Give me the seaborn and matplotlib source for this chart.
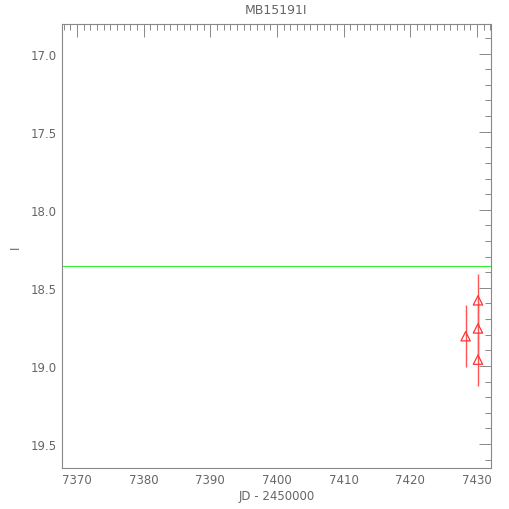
import numpy as np
import pandas as pd
import matplotlib
matplotlib.use("Agg")
import matplotlib.pyplot as plt
from matplotlib.ticker import MultipleLocator
import seaborn as sns

# photometry points (JD - 2450000, I mag, error)
jd = [7428.3, 7430.15, 7430.15, 7430.15]
mag = [18.81, 18.58, 18.76, 18.96]
err = [0.20, 0.17, 0.17, 0.17]
baseline = 18.36

title = "MB15191I"
xlabel = "JD - 2450000"
ylabel = "I"

df = pd.DataFrame({"jd": jd, "mag": mag, "err": err})

sns.set_style("white")
plt.rcParams["font.family"] = ["DejaVu Sans"]

grey = "#888888"
txt = "#666666"
fig = plt.figure(figsize=(5.1, 5.1), dpi=100)
ax = fig.add_axes([0.1216, 0.0804, 0.8411, 0.8706])

ax.axhline(baseline, color="#33ee33", lw=0.8)
ax.errorbar(df["jd"], df["mag"], yerr=df["err"], fmt="none",
            ecolor="#ff5555", elinewidth=1.0, capsize=0)
sns.scatterplot(data=df, x="jd", y="mag", marker="^", s=45,
                facecolor="none", edgecolor="#ff3333", linewidth=0.9, ax=ax, zorder=3)

ax.set_xlim(7367.75, 7432.1)
ax.set_ylim(19.654, 16.81)

ax.xaxis.set_major_locator(MultipleLocator(10))
ax.xaxis.set_minor_locator(MultipleLocator(1))
ax.yaxis.set_major_locator(MultipleLocator(0.5))
ax.yaxis.set_minor_locator(MultipleLocator(0.1))
ax.yaxis.set_major_formatter(matplotlib.ticker.FormatStrFormatter("%.1f"))

ax.tick_params(which="both", direction="in", top=True, right=True,
               color=grey, labelcolor=txt, labelsize=8.5, width=0.7)
ax.tick_params(which="major", length=9)
ax.tick_params(which="minor", length=4)
for s in ax.spines.values():
    s.set_color(grey)
    s.set_linewidth(0.8)

ax.set_title(title, color=txt, fontsize=9, pad=8)
ax.set_xlabel(xlabel, color=txt, fontsize=8.5, labelpad=2)
ax.set_ylabel(ylabel, color=txt, fontsize=8.5)
ax.yaxis.set_label_coords(-0.093, 0.5)

fig.savefig("out.png", dpi=100)
